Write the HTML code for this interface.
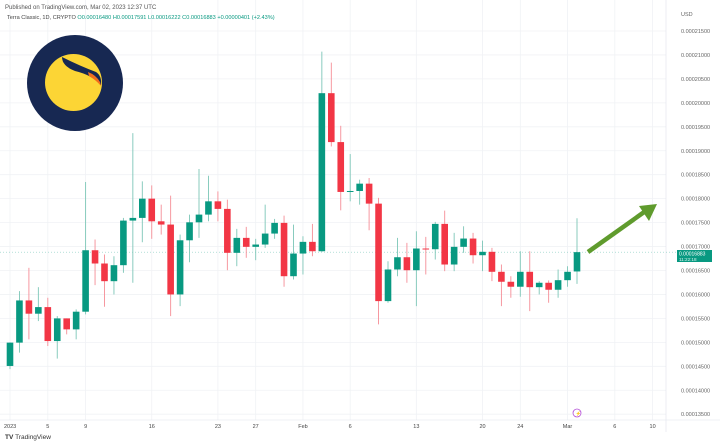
<!DOCTYPE html>
<html><head><meta charset="utf-8"><style>
body{margin:0;background:#fff;width:720px;height:445px;overflow:hidden;font-family:"Liberation Sans",sans-serif}
svg{display:block}
</style></head><body>
<svg id="chart" width="720" height="445" viewBox="0 0 720 445" xmlns="http://www.w3.org/2000/svg">
<rect width="720" height="445" fill="#fff"/>
<g id="grid"></g>
<g id="candles"></g>
<text x="5" y="9" font-size="6" fill="#555">Published on TradingView.com, Mar 02, 2023 12:37 UTC</text>
<text x="7" y="19" font-size="5.6" fill="#444">Terra Classic, 1D, CRYPTO <tspan fill="#089981">O0.00016480 H0.00017591 L0.00016222 C0.00016883 +0.00000401 (+2.43%)</tspan></text>
<g>
<circle cx="75" cy="83" r="48" fill="#172852"/>
<circle cx="73.5" cy="82.5" r="28.5" fill="#fcd535"/>
<path d="M62 57 Q80 66 96 72 Q102 76 101 85 Q92 75 75 71 Q62 66 62 57 Z" fill="#172852"/>
<path d="M88 72 Q96 75 100 82 L101 86 Q96 80 89 76 Z" fill="#f26e1d"/>
</g>
<g>
<line x1="588" y1="252" x2="647" y2="210" stroke="#5f9b2d" stroke-width="4.5"/>
<polygon points="657,204 639,206 649,221" fill="#5f9b2d"/>
</g>
<text x="681" y="16" font-size="5.5" fill="#666">USD</text>
<g id="yaxis"></g>
<g id="xaxis"></g>
<g>
<rect x="677" y="250" width="35" height="12" fill="#089981"/>
<text x="679" y="255.5" font-size="5" fill="#fff">0.00016883</text>
<text x="679" y="260.8" font-size="4.6" fill="#d8f3ec">11:22:18</text>
</g>
<g><circle cx="577" cy="413" r="4" fill="#fff" stroke="#b24bd6" stroke-width="0.8"/><text x="575.5" y="415" font-size="4.5" fill="#b24bd6">⚡</text></g>
<text x="5" y="439" font-size="6.5" fill="#333" font-weight="bold">TV <tspan font-weight="normal">TradingView</tspan></text>
</svg>
<script>
const opens=[14507,14994,15875,15598,15736,15027,15500,15271,15640,16923,16646,16277,16611,17542,17598,18000,17527,17459,16000,17131,17506,17667,17944,17786,16869,17181,16994,17042,17271,17494,16381,16854,17098,16902,20202,19181,18140,18160,18313,17896,15861,16521,16777,16506,16959,16944,17473,16625,16994,17167,16819,16890,16473,16265,16161,16473,16152,16244,16098,16298,16480];
const closes=[14994,15875,15598,15736,15027,15500,15271,15640,16923,16646,16277,16611,17542,17598,18000,17527,17459,16000,17131,17506,17667,17944,17786,16869,17181,16994,17042,17271,17494,16381,16854,17098,16902,20202,19181,18140,18160,18313,17896,15861,16521,16777,16506,16959,16944,17473,16625,16994,17167,16819,16890,16473,16265,16161,16473,16152,16244,16098,16298,16473,16883];
const highs=[15000,16069,16556,16152,15931,15548,15500,15688,18348,17146,16833,16798,17598,19369,18361,18277,17875,18063,17250,17667,18619,18479,18152,17979,17369,17411,17161,17875,17577,17646,17459,17215,17473,21069,20840,19521,18931,18396,18431,18015,16694,17181,17077,17319,17202,17515,17750,17286,17423,17286,17125,16973,16625,16381,16902,16902,16277,16292,16521,16590,17591];
const lows=[14440,14786,15063,15444,14923,14661,15167,15063,15583,16194,15744,16000,16452,16244,17090,17161,17250,15548,15756,16673,17182,17527,17527,16506,16590,16765,16715,16973,17161,16161,16313,16417,16798,16890,19090,17756,17944,17875,17340,15375,15827,16381,16244,15756,16417,16729,16486,16486,16869,16646,16486,16277,15756,15931,15952,15652,16000,15827,15931,16161,16222];
const priceTicks=[21500,21000,20500,20000,19500,19000,18500,18000,17500,17000,16500,16000,15500,15000,14500,14000,13500];
const dateLabels=["2023","5","9","16","23","27","Feb","6","13","20","24","Mar","6","10"];
const dateDays=[0,4,8,15,22,26,31,36,43,50,54,59,64,68];
const lastPrice=16883;
const NS="http://www.w3.org/2000/svg";
function yS(p){return 31+(21500-p)/500*23.95;}
function xS(d){return 10+d*9.45;}
function mk(tag,attrs,parent){const e=document.createElementNS(NS,tag);for(const k in attrs)e.setAttribute(k,attrs[k]);parent.appendChild(e);return e;}
const grid=document.getElementById('grid'),ya=document.getElementById('yaxis'),xa=document.getElementById('xaxis'),cg=document.getElementById('candles');
priceTicks.forEach(p=>{
 const l=mk('line',{x1:0,x2:666,y1:yS(p),y2:yS(p),stroke:'#f0f2f5','stroke-width':0.8},grid);
 
 
 const t=mk('text',{x:681,y:yS(p)+2,'font-size':5.5,fill:'#666'},ya);
 t.textContent=(p/1e8).toFixed(8);
 
 
});
dateDays.forEach((d,i)=>{
 const l=mk('line',{x1:xS(d),x2:xS(d),y1:0,y2:420,stroke:'#f0f2f5','stroke-width':0.8},grid);
 
 
 const t=mk('text',{x:xS(d),y:428,'font-size':5.5,fill:'#444','text-anchor':i===0?'start':'middle'},xa);
 if(i===0)t.setAttribute('x',4);
 t.textContent=dateLabels[i];
 
 
});
mk('line',{x1:0,x2:720,y1:420,y2:420,stroke:'#e0e3eb','stroke-width':0.6},grid);
mk('line',{x1:666,x2:666,y1:0,y2:432,stroke:'#e0e3eb','stroke-width':0.6},grid);
const pl=mk('line',{x1:0,x2:677,y1:yS(lastPrice),y2:yS(lastPrice),stroke:'#089981','stroke-width':0.5,'stroke-dasharray':'1,2','opacity':0.6},grid);


opens.forEach((o,i)=>{
 const c=closes[i],up=c>=o,col=up?'#089981':'#f23645',x=xS(i);
 const w=mk('line',{x1:x,x2:x,y1:yS(highs[i]),y2:yS(lows[i]),stroke:up?'#7cc6b7':'#f58d96','stroke-width':0.9},cg);
 
 
 const top=yS(Math.max(o,c)),bot=yS(Math.min(o,c));
 const r=mk('rect',{x:x-3.3,y:top,width:6.6,height:Math.max(1,bot-top),fill:col},cg);
 
 
});
</script>
</body></html>
